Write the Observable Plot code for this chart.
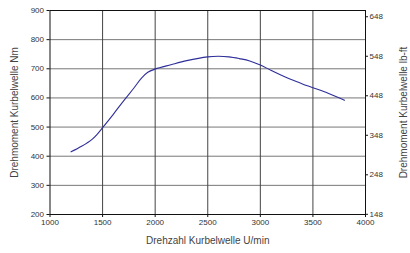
<!DOCTYPE html>
<html><head><meta charset="utf-8">
<script src="https://cdn.jsdelivr.net/npm/d3@7"></script>
<script src="https://cdn.jsdelivr.net/npm/@observablehq/plot@0.6"></script>
<style>
html,body{margin:0;padding:0;background:#fff;overflow:hidden;}
svg{display:block;}
</style>
</head><body><div id="chart"></div>
<script>
const rpm = [1200,1300,1400,1450,1500,1600,1700,1800,1870,1930,2000,2150,2300,2500,2600,2700,2800,2900,3000,3100,3200,3300,3400,3500,3650,3800];
const torqueNm = [415,434,458,476,498,543,590,635,668,688,699,714,728,741,743,741,735,727,713,695,678,662,648,635,615,592];
const xTicks = [1000,1500,2000,2500,3000,3500,4000];
const yTicks = [200,300,400,500,600,700,800,900];
const lbftTicks = [148,248,348,448,548,648];
const NM_PER_LBFT = 1/0.737562;

const data = rpm.map((r,i)=>({rpm:r, nm:torqueNm[i]}));
const font = "Liberation Sans, Arial, sans-serif";

const plot = Plot.plot({
  width: 410, height: 253,
  marginLeft: 49.5, marginRight: 45, marginTop: 10, marginBottom: 39,
  style: {fontFamily: font, fontSize: "8px", color: "#333", background: "#fff"},
  x: {domain: [1000,4000]},
  y: {domain: [200,900]},
  marks: [
    Plot.gridY(yTicks, {stroke: "#777", strokeOpacity: 1, strokeWidth: 1}),
    Plot.gridX(xTicks.slice(1,-1), {stroke: "#444", strokeOpacity: 1, strokeWidth: 1}),
    Plot.frame({stroke: "#111", strokeWidth: 1}),
    Plot.axisX(xTicks, {tickSize: 3, tickPadding: 2, stroke: "#111", fill: "#333", label: null, tickFormat: d => String(d)}),
    Plot.axisY(yTicks, {tickSize: 3, tickPadding: 3, stroke: "#111", fill: "#333", label: null, tickFormat: d => String(d)}),
    Plot.axisY(lbftTicks.map(v => v*NM_PER_LBFT), {anchor: "right", tickSize: 2, tickPadding: 2, stroke: "#111", fill: "#333", label: null, tickFormat: d => String(Math.round(d/NM_PER_LBFT))}),
    Plot.line(data, {x: "rpm", y: "nm", stroke: "#2e2e9a", strokeWidth: 1.1, curve: "catmull-rom"}),
    Plot.text(["Drehzahl Kurbelwelle U/min"], {frameAnchor: "bottom", dy: 29, text: d => d, fontSize: 10, fill: "#444"}),
    Plot.text(["Drehmoment Kurbelwelle Nm"], {frameAnchor: "left", dx: -35, rotate: -90, textAnchor: "middle", text: d => d, fontSize: 10, fill: "#444"}),
    Plot.text(["Drehmoment Kurbelwelle lb-ft"], {frameAnchor: "right", dx: 38, rotate: -90, textAnchor: "middle", text: d => d, fontSize: 10, fill: "#444"})
  ]
});
document.getElementById("chart").appendChild(plot);
</script>
</body></html>
